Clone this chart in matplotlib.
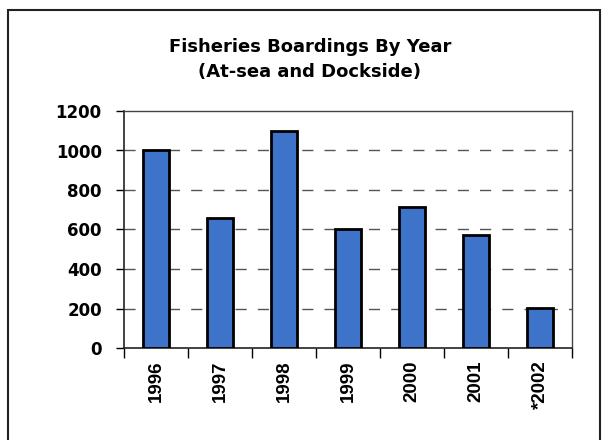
import matplotlib.pyplot as plt
from matplotlib.patches import Rectangle

plt.rcParams['font.family'] = ['DejaVu Sans']

# data
years = ['1996', '1997', '1998', '1999', '2000', '2001', '*2002']
boardings = [1000, 660, 1100, 605, 712, 570, 205]
yticks = [0, 200, 400, 600, 800, 1000, 1200]

fig = plt.figure(figsize=(6.03, 4.40), dpi=100)
fig.patch.set_facecolor('white')

# outer frame of the scanned panel
fig.patches.append(Rectangle((8 / 603, -0.05), 592 / 603, 1 - 10 / 440 + 0.05,
                             transform=fig.transFigure, fill=False,
                             edgecolor='#222222', linewidth=1.5))

ax = fig.add_axes([124 / 603, 1 - 348 / 440, 448 / 603, 237 / 440])
x = list(range(len(years)))
ax.bar(x, boardings, width=0.42, color='#3d73c9', edgecolor='black',
       linewidth=2, zorder=3)

ax.set_xlim(-0.5, len(years) - 0.5)
ax.set_ylim(0, 1200)
ax.set_yticks(yticks)
ax.set_yticklabels([str(v) for v in yticks], fontsize=12, fontweight='bold')
for v in yticks[1:-1]:
    ax.axhline(v, color='#555555', linewidth=1, dashes=(8, 8), zorder=1)

# ticks between categories, labels under the bars
ax.set_xticks([i - 0.5 for i in range(len(years) + 1)])
ax.set_xticklabels([])
ax.set_xticks(x, minor=True)
ax.set_xticklabels(years, minor=True, rotation=90, fontsize=13.5,
                   fontweight='bold', family=['Liberation Sans', 'DejaVu Sans'])
ax.tick_params(axis='x', which='major', direction='out', length=7, width=1)
ax.tick_params(axis='x', which='minor', length=0, pad=9)
ax.tick_params(axis='y', direction='out', length=6, width=1, pad=10)

for s in ['left', 'bottom']:
    ax.spines[s].set_color('#222222')
    ax.spines[s].set_linewidth(1.2)
for s in ['top', 'right']:
    ax.spines[s].set_color('#444444')
    ax.spines[s].set_linewidth(1)

fig.text(310 / 603, 1 - 47 / 440, 'Fisheries Boardings By Year',
         ha='center', va='center', fontsize=13, fontweight='bold')
fig.text(310 / 603, 1 - 72 / 440, '(At-sea and Dockside)',
         ha='center', va='center', fontsize=13, fontweight='bold')

fig.savefig('out.png', dpi=100)
